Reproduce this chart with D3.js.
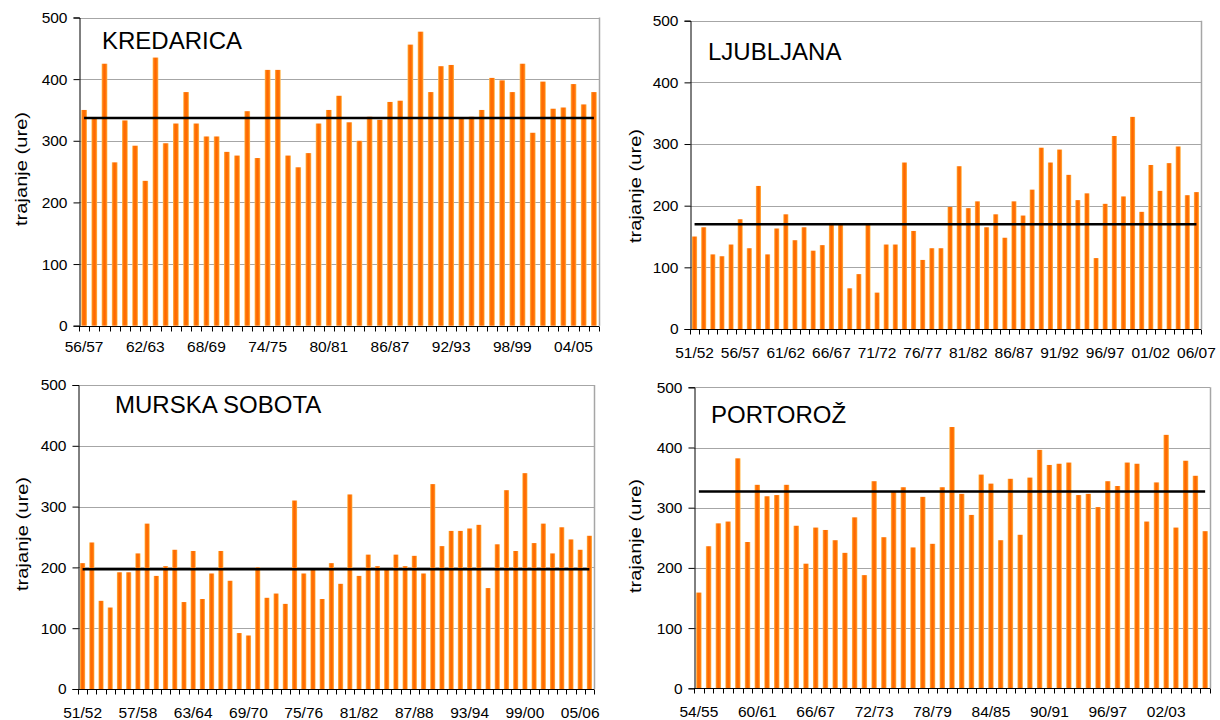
<!DOCTYPE html>
<html><head><meta charset="utf-8">
<script src="https://cdn.jsdelivr.net/npm/d3@7"></script>
<style>
body{margin:0;background:#fff;}
text{font-family:"Liberation Sans", Arial, sans-serif; fill:#000;}
</style>
</head><body>
<svg id="chart" width="1220" height="720"></svg>
<script>
// ---------- DATA ----------
const seasons = ["51/52","52/53","53/54","54/55","55/56","56/57","57/58","58/59","59/60","60/61",
  "61/62","62/63","63/64","64/65","65/66","66/67","67/68","68/69","69/70","70/71",
  "71/72","72/73","73/74","74/75","75/76","76/77","77/78","78/79","79/80","80/81",
  "81/82","82/83","83/84","84/85","85/86","86/87","87/88","88/89","89/90","90/91",
  "91/92","92/93","93/94","94/95","95/96","96/97","97/98","98/99","99/00","00/01",
  "01/02","02/03","03/04","04/05","05/06","06/07"];

const yTicks = [0, 100, 200, 300, 400, 500];

const kredaricaValues = [350,337,425,265,333,292,235,435,296,328,
  379,328,307,307,282,276,348,272,415,415,
  276,257,280,328,350,373,330,300,339,334,
  363,365,456,477,379,421,423,338,339,350,
  402,398,379,425,313,396,352,354,392,359,379];
const kredaricaMean = 337;

const ljubljanaValues = [150,165,121,118,137,178,131,232,121,163,
  186,144,165,127,136,172,171,66,89,171,
  59,137,137,270,159,112,131,131,198,264,
  196,207,165,186,148,207,184,226,294,270,
  291,250,209,220,115,203,313,215,344,190,
  266,224,269,296,217,222];
const ljubljanaMean = 170;

const murskaSobotaValues = [207,241,145,134,192,192,223,272,186,202,
  229,143,227,148,190,227,178,92,88,200,
  150,157,140,310,190,197,148,207,173,320,
  186,221,202,197,221,202,219,190,337,235,
  260,260,264,270,166,238,327,227,355,240,
  272,223,266,246,229,252];
const murskaSobotaMean = 197;

const portorozValues = [159,236,274,277,382,243,338,319,321,338,
  270,207,267,263,246,225,284,188,344,251,
  327,334,234,318,240,334,434,323,288,355,
  340,246,348,255,350,396,371,373,375,321,
  323,301,344,336,375,373,277,342,421,267,
  378,353,261];
const portorozMean = 327;

const yTitle = "trajanje (ure)";

// ---------- LAYOUT ----------
const panels = [
  {name:"KREDARICA", values:kredaricaValues, first:"56/57", mean:kredaricaMean, step:6,
   x0:79, x1:599, y0:17.5, y1:325.7, tx:102, ty:49, ytx:21, yty:169, labelDy:26},
  {name:"LJUBLJANA", values:ljubljanaValues, first:"51/52", mean:ljubljanaMean, step:5,
   x0:690, x1:1201, y0:20.7, y1:329, tx:708, ty:60, ytx:635, yty:186, labelDy:29},
  {name:"MURSKA SOBOTA", values:murskaSobotaValues, first:"51/52", mean:murskaSobotaMean, step:6,
   x0:78, x1:594, y0:385, y1:689, tx:115, ty:413, ytx:22, yty:534, labelDy:29},
  {name:"PORTOROŽ", values:portorozValues, first:"54/55", mean:portorozMean, step:6,
   x0:694, x1:1210, y0:387.3, y1:688.3, tx:711, ty:423, ytx:635, yty:536, labelDy:29}
];

const svg = d3.select("#chart");
svg.append("rect").attr("width",1220).attr("height",720).attr("fill","#fff");

const defs = svg.append("defs");
const grad = defs.append("linearGradient").attr("id","barGrad")
  .attr("x1","0%").attr("x2","100%").attr("y1","0%").attr("y2","0%");
[[0,"#FFC05A"],[0.22,"#FF7A0A"],[0.5,"#FF6600"],[0.78,"#FF7A0A"],[1,"#FFC05A"]]
  .forEach(([o,c]) => grad.append("stop").attr("offset",o).attr("stop-color",c));

panels.forEach(p => {
  const si = seasons.indexOf(p.first);
  const cats = seasons.slice(si, si + p.values.length);
  const data = cats.map((c,i) => ({cat:c, v:p.values[i]}));

  const x = d3.scaleBand().domain(cats).range([p.x0, p.x1]).paddingInner(0.44).paddingOuter(0.22);
  const y = d3.scaleLinear().domain([0, 500]).range([p.y1, p.y0]);
  const step = x.step();
  const g = svg.append("g");

  // gridlines
  g.append("g").selectAll("line").data(yTicks.filter(t => t > 0)).join("line")
    .attr("x1", p.x0).attr("x2", p.x1)
    .attr("y1", d => Math.round(y(d)) + 0.5).attr("y2", d => Math.round(y(d)) + 0.5)
    .attr("stroke", "#a6a6a6").attr("stroke-width", 1);
  // right border
  g.append("line").attr("x1", Math.round(p.x1)+0.5).attr("x2", Math.round(p.x1)+0.5)
    .attr("y1", y(500)).attr("y2", y(0)).attr("stroke","#a6a6a6").attr("stroke-width", 1.5);

  // bars
  g.append("g").selectAll("rect").data(data).join("rect")
    .attr("x", d => x(d.cat)).attr("width", x.bandwidth())
    .attr("y", d => y(d.v)).attr("height", d => y(0) - y(d.v))
    .attr("fill", "url(#barGrad)");

  // mean line
  const line = d3.line().x(d => x(d.cat) + x.bandwidth()/2).y(() => y(p.mean));
  g.append("path").datum(data).attr("d", line)
    .attr("fill","none").attr("stroke","#000").attr("stroke-width", 2.6);

  // y axis
  const yAxis = d3.axisLeft(y).tickValues(yTicks).tickSize(6).tickPadding(6).tickFormat(d3.format("d"));
  const ya = g.append("g").attr("transform", `translate(${Math.round(p.x0)+0.5},0)`).call(yAxis);
  ya.select(".domain").attr("stroke","#000");
  ya.selectAll(".tick line").attr("stroke","#000");
  ya.selectAll(".tick text").attr("font-size","15.5px").attr("fill","#000")
    .style("font-family",'"Liberation Sans", Arial, sans-serif');

  // x axis line and category boundary ticks
  const yb = Math.round(y(0)) + 0.5;
  g.append("line").attr("x1", p.x0).attr("x2", p.x1).attr("y1", yb).attr("y2", yb)
    .attr("stroke","#000").attr("stroke-width",1);
  const bounds = d3.range(cats.length + 1).map(i => p.x0 + i * step);
  g.append("g").selectAll("line").data(bounds).join("line")
    .attr("x1", d => Math.round(d)+0.5).attr("x2", d => Math.round(d)+0.5)
    .attr("y1", yb).attr("y2", yb + 5).attr("stroke","#000");

  // x labels
  const xAxis = d3.axisBottom(x).tickValues(cats.filter((c,i) => i % p.step === 0)).tickSize(0).tickPadding(0);
  const xa = g.append("g").attr("transform", `translate(0,${y(0)})`).call(xAxis);
  xa.select(".domain").remove();
  xa.selectAll(".tick text").attr("font-size","15.5px").attr("fill","#000")
    .attr("dy", null).attr("y", p.labelDy)
    .style("font-family",'"Liberation Sans", Arial, sans-serif');

  // station title
  g.append("text").attr("x", p.tx).attr("y", p.ty).attr("font-size","24px").text(p.name);

  // y title
  g.append("text").attr("transform", `translate(${p.ytx},${p.yty}) rotate(-90)`)
    .attr("text-anchor","middle").attr("dominant-baseline","central")
    .attr("font-size","17px").attr("textLength", 114).attr("lengthAdjust","spacingAndGlyphs")
    .text(yTitle);
});
</script>
</body></html>
